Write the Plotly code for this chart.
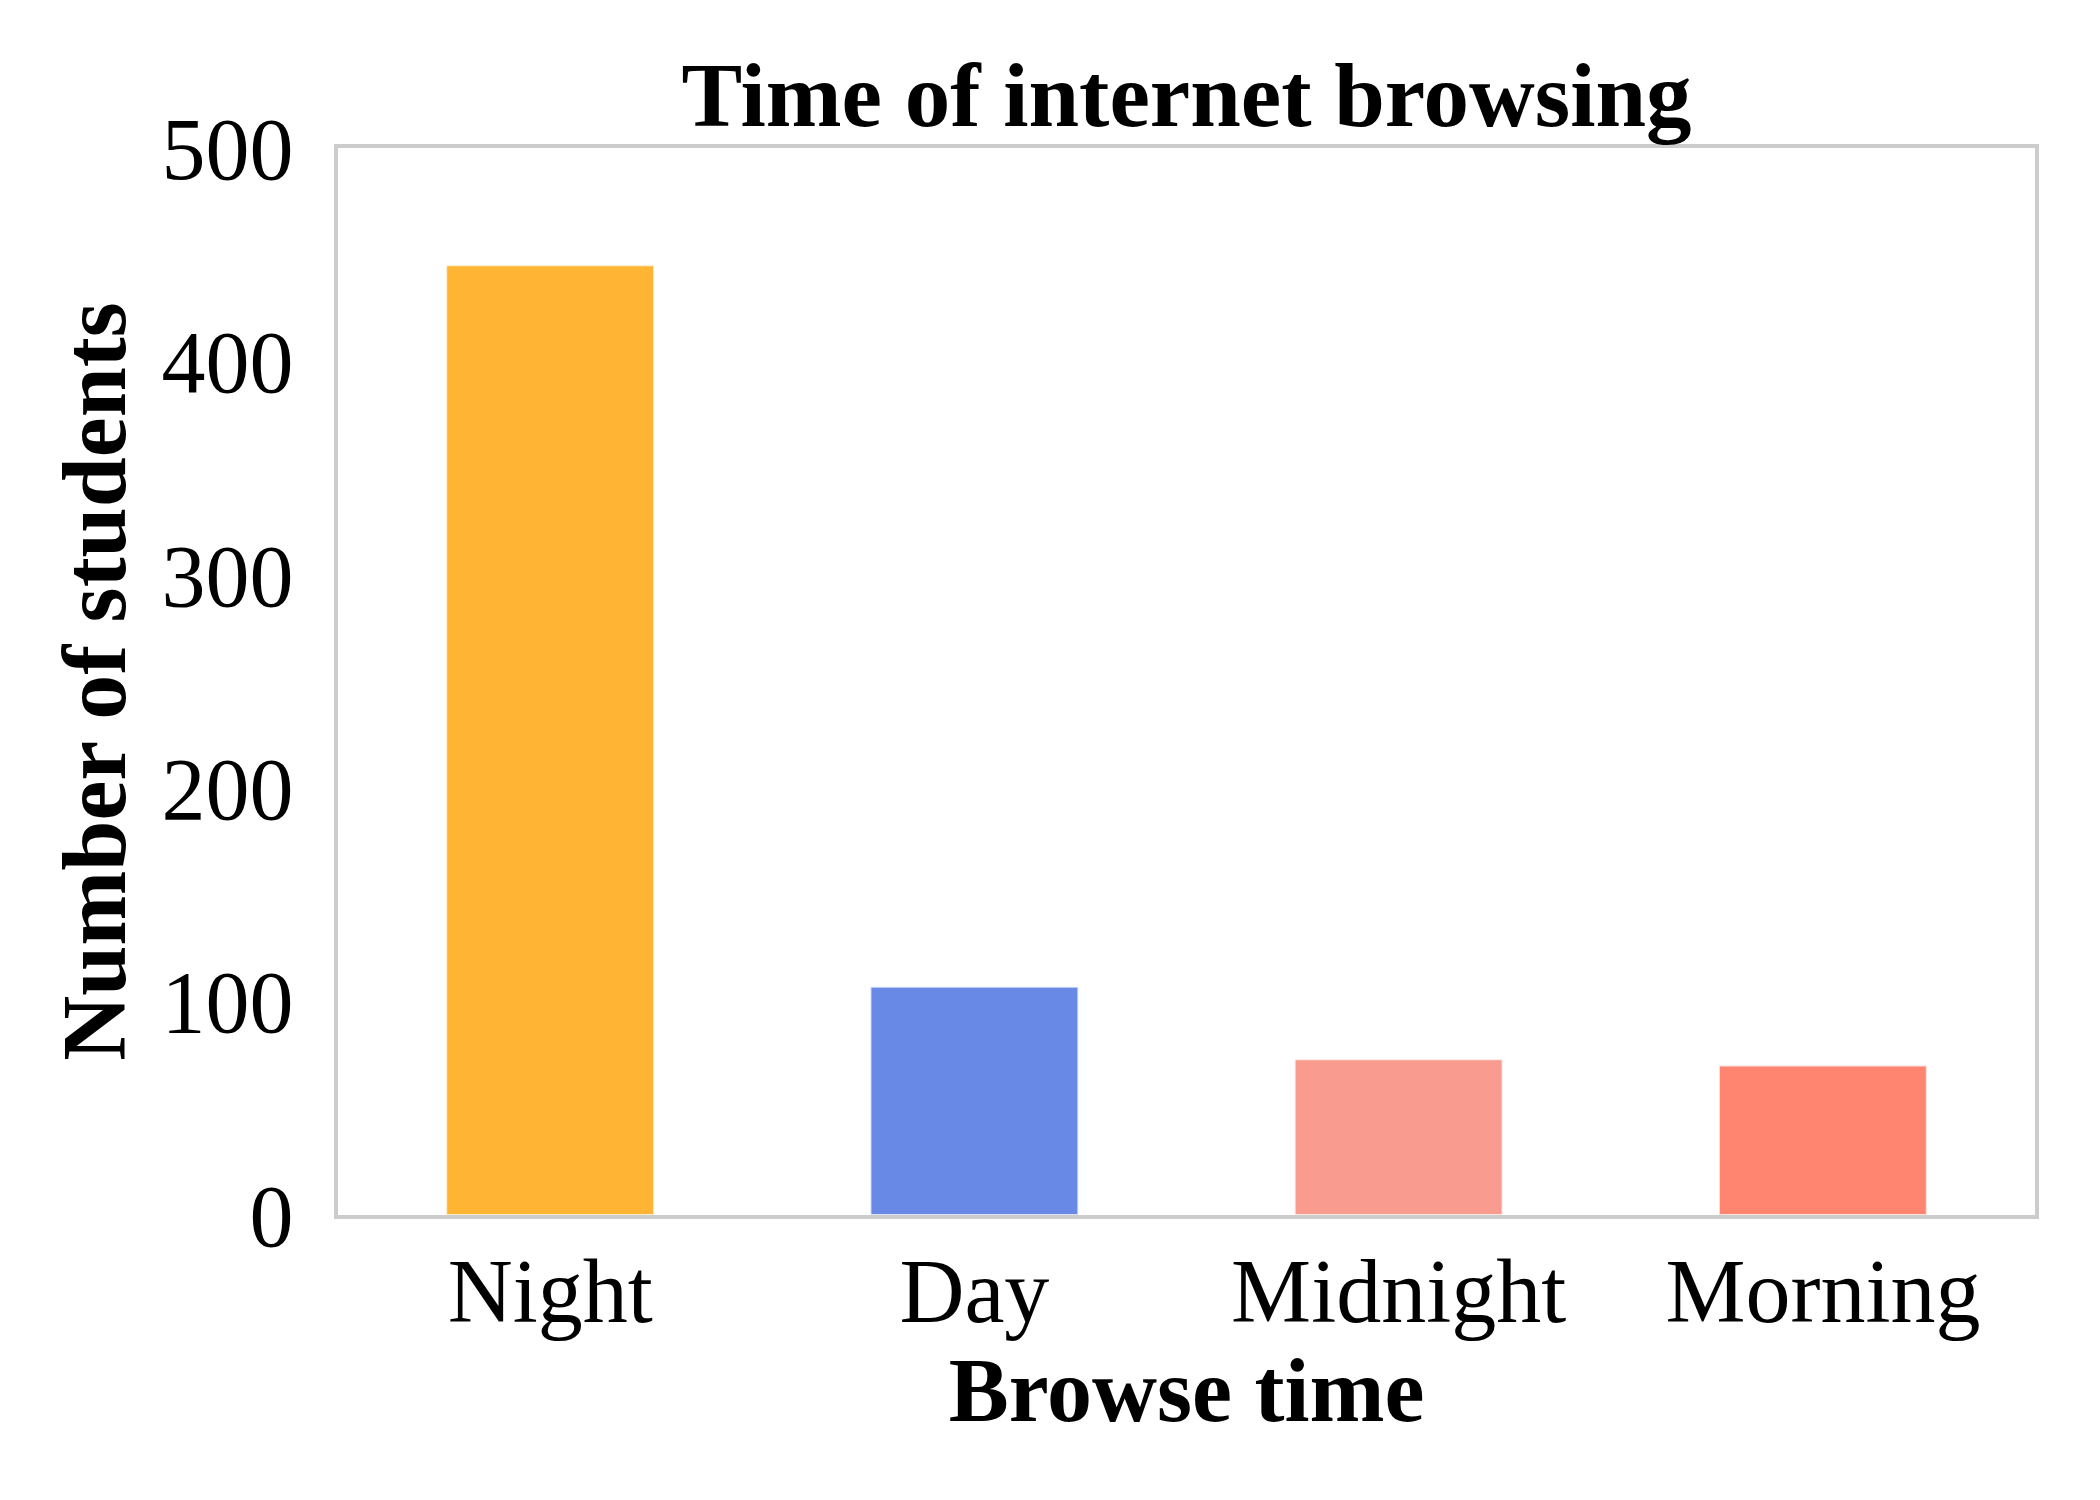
import plotly.graph_objects as go

categories = ["Night", "Day", "Midnight", "Morning"]
counts = [445, 107, 73, 70]
colors = ["#FFB533", "#6889E5", "#FA9B8F", "#FF8570"]
y_ticks = [0, 100, 200, 300, 400, 500]

FONT = "Liberation Serif, Times New Roman, serif"

fig = go.Figure(
    go.Bar(
        x=categories,
        y=counts,
        width=0.49,
        marker=dict(color=colors, line=dict(color="rgba(255,255,255,0.75)", width=2)),
    )
)

fig.update_layout(
    width=2100,
    height=1500,
    paper_bgcolor="white",
    plot_bgcolor="white",
    margin=dict(l=338, r=65, t=148, b=285, autoexpand=False),
    showlegend=False,
    font=dict(family=FONT, color="black"),
    title=dict(
        text="<b>Time of internet browsing</b>",
        font=dict(family=FONT, size=91, color="black"),
        x=(338 + 2035) / 2 / 2100,
        xanchor="center",
        xref="container",
        y=1 - 94 / 1500,
        yanchor="middle",
        yref="container",
    ),
)

fig.update_xaxes(
    showline=True,
    mirror=True,
    linecolor="#cccccc",
    linewidth=4,
    showgrid=False,
    ticks="",
    tickfont=dict(family=FONT, size=90, color="black"),
    ticklabelstandoff=-5,
    title=dict(text="<b>Browse time</b>", font=dict(family=FONT, size=90, color="black"), standoff=8),
)

fig.update_yaxes(
    range=[0, 500],
    tickvals=y_ticks,
    showline=True,
    mirror=True,
    linecolor="#cccccc",
    linewidth=4,
    showgrid=False,
    zeroline=False,
    ticks="",
    tickfont=dict(family=FONT, size=88, color="black"),
    ticklabelstandoff=23,
    title=dict(text="<b>Number of students</b>", font=dict(family=FONT, size=90, color="black"), standoff=7),
)

fig.write_html("out.html")
